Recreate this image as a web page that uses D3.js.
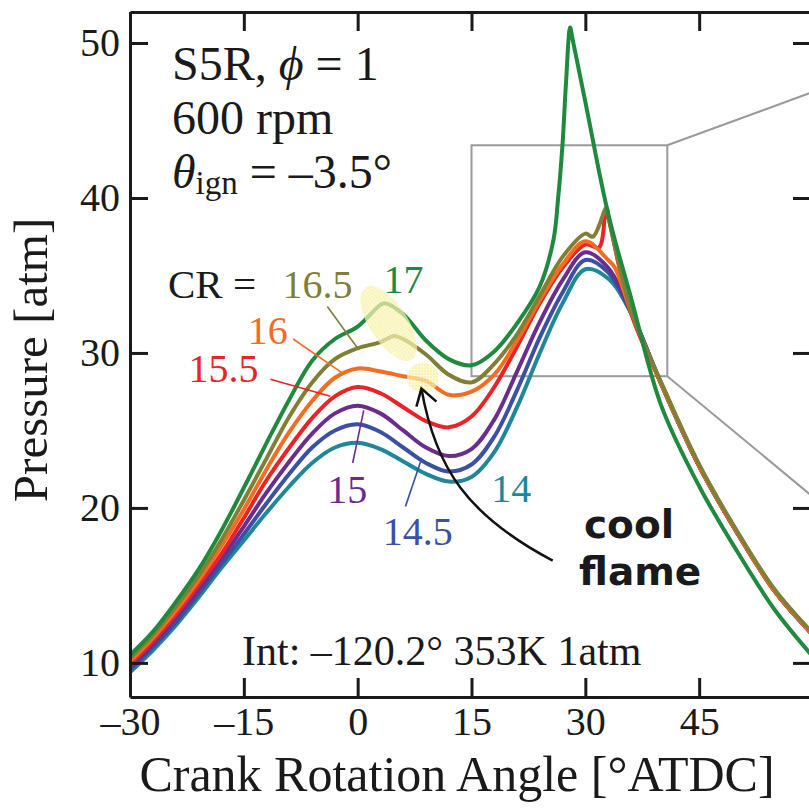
<!DOCTYPE html>
<html>
<head>
<meta charset="utf-8">
<script src="https://cdn.jsdelivr.net/npm/d3@7"></script>
<style>
  body { margin: 0; background: #fff; }
  text { font-family: "Liberation Serif", "Times New Roman", serif; fill: #1a1a1a; }
</style>
</head>
<body>
<script>
var width = 809,
    height = 808;

// crank angle grid [°ATDC] shared by all pressure traces
var angle = [-30, -27, -24, -21, -18, -15, -12, -9, -6, -3, 0, 3, 6, 9, 12, 15, 18, 21, 24, 27, 30, 33, 36, 40, 45, 50, 55, 60];

// pressure [atm] for each compression ratio
var p14   = [9.4, 10.8, 12.4, 14.2, 16.1, 17.9, 19.7, 21.4, 22.9, 23.9, 24.2, 23.8, 23.0, 22.2, 21.7, 22.0, 23.6, 26.5, 30.0, 33.2, 35.4, 34.8, 32.6, 28.0, 22.7, 18.4, 14.6, 11.8];
var p14_5 = [9.55, 11.0, 12.6, 14.45, 16.35, 18.3, 20.3, 22.2, 23.9, 25.0, 25.4, 24.9, 23.9, 22.9, 22.35, 22.8, 24.6, 27.6, 31.0, 33.9, 36.0, 35.2, 32.6, 28.0, 22.7, 18.4, 14.6, 11.8];
var p15   = [9.7, 11.2, 12.9, 14.7, 16.7, 18.8, 21.0, 23.0, 24.8, 26.1, 26.6, 26.1, 25.0, 23.9, 23.35, 23.8, 25.7, 28.8, 32.0, 34.7, 36.5, 35.5, 32.7, 28.0, 22.7, 18.4, 14.6, 11.8];
var p15_5 = [9.9, 11.4, 13.1, 15.0, 17.0, 19.35, 21.8, 23.9, 25.8, 27.2, 27.8, 27.4, 26.5, 25.6, 25.2, 25.9, 27.8, 30.4, 33.2, 35.5, 37.0, 38.8, 32.6, 28.0, 22.7, 18.4, 14.6, 11.8];
var p16   = [10.1, 11.6, 13.35, 15.3, 17.5, 19.9, 22.5, 24.9, 26.9, 28.4, 29.0, 28.8, 28.5, 28.2, 27.3, 27.5, 28.6, 30.8, 33.4, 35.7, 37.2, 36.0, 32.7, 28.0, 22.7, 18.4, 14.6, 11.8];
var p16_5 = [10.3, 11.8, 13.6, 15.6, 17.9, 20.5, 23.2, 25.9, 28.1, 29.6, 30.3, 30.7, 30.9, 29.9, 28.6, 28.1, 29.3, 31.2, 33.7, 36.2, 37.7, 38.9, 32.8, 28.1, 22.8, 18.5, 14.7, 11.9];
var p17   = [10.5, 12.0, 13.9, 16.0, 18.5, 21.3, 24.2, 27.0, 29.5, 30.9, 31.7, 33.1, 32.5, 30.8, 29.6, 29.2, 30.1, 31.9, 34.3, 43.5, 46.2, 39.0, 33.6, 26.6, 21.4, 17.2, 13.4, 10.4];

// extra points around knocking spikes / cool-flame bumps
var extra15_5 = [[31.8, 36.8], [32.7, 39.2]];
var extra16   = [[33.9, 35.5]];
var extra16_5 = [[4.8, 31.1], [31.0, 37.5], [32.8, 39.4]];
var extra17   = [[3.6, 33.2], [25.8, 37.3], [26.4, 39.9], [27.45, 47.4], [28.0, 51.0], [28.3, 50.3]];

var crNames = ["14", "14.5", "15", "15.5", "16", "16.5", "17"];
var colors = ["#1f8799", "#3b50a2", "#6b2d8d", "#ec2326", "#f36c21", "#817f35", "#1f8a3e"];

// label anchor [angle, pressure] and leader line ends
var labelPos = [[17.6, 20.4], [3.3, 17.6], [-4.0, 20.3], [-22.3, 28.1], [-14.5, 30.6], [-9.9, 33.55], [3.4, 33.9]];
var leaders = [null, [[6.3, 20.1], [8.3, 23.0]], [[-0.66, 22.9], [0.8, 26.3]], [[-11.5, 28.3], [-3.6, 27.2]],
               [[-8.5, 30.9], [-2.0, 28.7]], [[-4.0, 33.0], [0.0, 30.3]], null];

var xMajor = [-30, -15, 0, 15, 30, 45];
var yMajor = [10, 20, 30, 40, 50];

var svg = d3.select("body").append("svg")
    .attr("width", width)
    .attr("height", height);

var x = d3.scaleLinear().domain([-30, 60]).range([130, 813]);
var y = d3.scaleLinear().domain([7.8, 52]).range([697, 12]);

var defs = svg.append("defs");
defs.append("clipPath").attr("id", "plot")
  .append("rect")
    .attr("x", 130).attr("y", 12)
    .attr("width", 683).attr("height", 685);

// dotted-grid yellow fill like the highlight in the figure
var pat = defs.append("pattern")
    .attr("id", "hatch")
    .attr("patternUnits", "userSpaceOnUse")
    .attr("width", 3).attr("height", 3);
pat.append("rect").attr("width", 3).attr("height", 3).attr("fill", "#f6ef95");
pat.append("path").attr("d", "M0,0.5H3M0.5,0V3")
    .attr("stroke", "#fbf7c8").attr("stroke-width", 1);

// zoom box of the inset
var box = svg.append("g")
    .attr("fill", "none")
    .attr("stroke", "#9a9a9c")
    .attr("stroke-width", 2);
box.append("rect")
    .attr("x", x(15)).attr("y", y(43.4))
    .attr("width", x(40.8) - x(15))
    .attr("height", y(28.5) - y(43.4));
box.append("line")
    .attr("x1", x(40.8)).attr("y1", y(43.4))
    .attr("x2", x(62)).attr("y2", y(47.2));
box.append("line")
    .attr("x1", x(40.8)).attr("y1", y(28.5))
    .attr("x2", x(62)).attr("y2", y(19.9));

var line = d3.line()
    .x(d => x(d[0]))
    .y(d => y(d[1]))
    .curve(d3.curveCatmullRom.alpha(0.5));

var series = [
  {p: p14, extra: []},
  {p: p14_5, extra: []},
  {p: p15, extra: []},
  {p: p15_5, extra: extra15_5},
  {p: p16, extra: extra16},
  {p: p16_5, extra: extra16_5},
  {p: p17, extra: extra17}
];

svg.append("g")
    .attr("clip-path", "url(#plot)")
  .selectAll("path")
  .data(series)
  .enter().append("path")
    .attr("fill", "none")
    .attr("stroke", (d, i) => colors[i])
    .attr("stroke-width", 4)
    .attr("stroke-linejoin", "round")
    .attr("d", d => line(angle.map((a, i) => [a, d.p[i]]).concat(d.extra).sort((a, b) => a[0] - b[0])));

// cool flame highlights
var hl = svg.append("g")
    .attr("fill", "url(#hatch)")
    .attr("opacity", 0.72);
hl.append("ellipse")
    .attr("transform", `translate(${x(4.1)},${y(31.9)}) rotate(57)`)
    .attr("rx", 43).attr("ry", 19);
hl.append("ellipse")
    .attr("cx", x(8.6)).attr("cy", y(28.4))
    .attr("rx", 16).attr("ry", 15);

// axes: make() returns a fresh axis each call
var dashFmt = d => d3.format("d")(d).replace("−", "–");
function frame(make, g, major, minor, big, small, labels) {
  g.call(make().tickValues(minor).tickSizeInner(-small).tickSizeOuter(0).tickFormat(""));
  g.call(make().tickValues(major).tickSizeInner(-big).tickSizeOuter(0)
      .tickPadding(labels ? 10 : 0).tickFormat(labels ? dashFmt : ""));
  g.selectAll("path, line").attr("stroke", "#1a1a1a").attr("stroke-width", 3);
  g.selectAll("text").attr("font-size", 40).attr("fill", "#1a1a1a")
      .attr("font-family", '"Liberation Serif", "Times New Roman", serif');
}
var xMinor = d3.range(-30, 61, 5).filter(v => xMajor.indexOf(v) < 0);
var yMinor = d3.range(15, 50, 10);

frame(() => d3.axisBottom(x), svg.append("g").attr("transform", "translate(0,697)"), xMajor, xMinor, 19, 12, true);
frame(() => d3.axisTop(x), svg.append("g").attr("transform", "translate(0,12)"), xMajor, xMinor, 19, 11, false);
frame(() => d3.axisLeft(y), svg.append("g").attr("transform", "translate(130,0)"), yMajor, yMinor, 18, 12, true);
frame(() => d3.axisRight(y), svg.append("g").attr("transform", "translate(813,0)"), yMajor, yMinor, 20, 10, false);

svg.append("text")
    .attr("x", 457).attr("y", 791)
    .attr("text-anchor", "middle")
    .attr("font-size", 50)
    .text("Crank Rotation Angle [°ATDC]");

svg.append("text")
    .attr("transform", "translate(47,360) rotate(-90)")
    .attr("text-anchor", "middle")
    .attr("font-size", 49)
    .text("Pressure [atm]");

// condition block
var info = svg.append("g").attr("font-size", 48);
var t1 = info.append("text").attr("x", 172).attr("y", 80);
t1.append("tspan").text("S5R, ");
t1.append("tspan").attr("font-style", "italic").text("ϕ");
t1.append("tspan").text(" = 1");
info.append("text").attr("x", 172).attr("y", 134).text("600 rpm");
var t3 = info.append("text").attr("x", 172).attr("y", 188);
t3.append("tspan").attr("font-style", "italic").text("θ");
t3.append("tspan").attr("font-size", 33).attr("dy", 6).text("ign");
t3.append("tspan").attr("dy", -6).text(" = –3.5°");

svg.append("text")
    .attr("x", 242).attr("y", 665)
    .attr("font-size", 42)
    .text("Int: –120.2° 353K 1atm");

// CR labels
svg.append("text")
    .attr("x", x(-25.0)).attr("y", y(33.55))
    .attr("font-size", 41)
    .text("CR =");

svg.append("g").selectAll("text")
  .data(crNames)
  .enter().append("text")
    .attr("x", (d, i) => x(labelPos[i][0]))
    .attr("y", (d, i) => y(labelPos[i][1]))
    .attr("font-size", 40)
    .style("fill", (d, i) => colors[i])
    .text(d => d);

svg.append("g").selectAll("line")
  .data(leaders.map((d, i) => ({l: d, c: colors[i]})).filter(d => d.l))
  .enter().append("line")
    .attr("x1", d => x(d.l[0][0])).attr("y1", d => y(d.l[0][1]))
    .attr("x2", d => x(d.l[1][0])).attr("y2", d => y(d.l[1][1]))
    .attr("stroke", d => d.c)
    .attr("stroke-width", 1.6);

// cool flame arrow
var tail = [x(25.7), y(16.6)], tip = [x(8.4), y(27.7)];
svg.append("path")
    .attr("fill", "none")
    .attr("stroke", "#111")
    .attr("stroke-width", 2.5)
    .attr("d", `M${tail[0]},${tail[1]} C${tail[0] - 85},${tail[1] - 45} ${tip[0] + 14},${tip[1] + 80} ${tip[0]},${tip[1]}`);
svg.append("path")
    .attr("fill", "none")
    .attr("stroke", "#111")
    .attr("stroke-width", 2.5)
    .attr("d", `M${tip[0] - 5},${tip[1] + 18} L${tip[0]},${tip[1]} L${tip[0] + 15},${tip[1] + 13}`);

var cf = svg.append("g")
    .attr("font-size", 39)
    .attr("font-weight", "bold");
cf.append("text").attr("x", 584).attr("y", 538)
    .style("font-family", '"DejaVu Sans", sans-serif').text("cool");
cf.append("text").attr("x", 579).attr("y", 585)
    .style("font-family", '"DejaVu Sans", sans-serif').text("flame");
</script>
</body>
</html>
